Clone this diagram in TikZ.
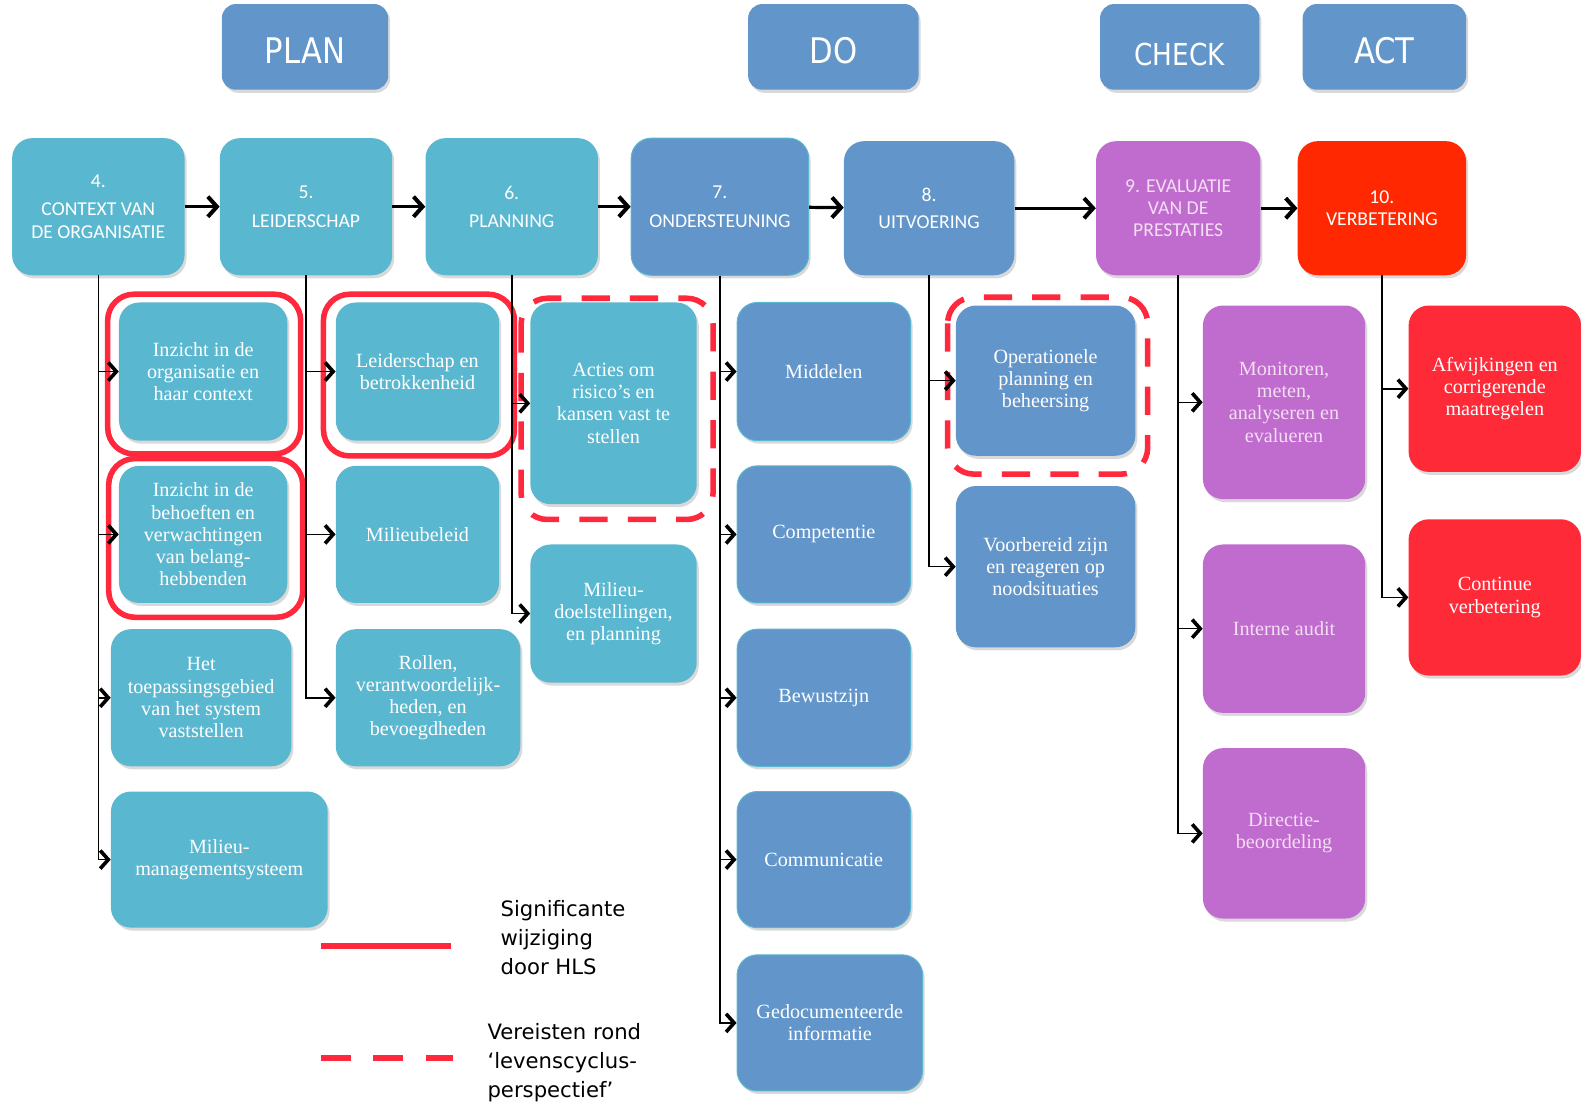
\documentclass[tikz,border=0pt]{standalone}
\usepackage{fontspec}
\setmainfont{Liberation Serif}
\newfontfamily\boxfont{Carlito}
\newfontfamily\pdcafont[FakeStretch=0.87]{DejaVu Sans}
\newfontfamily\legendfont{DejaVu Sans}
\usetikzlibrary{arrows.meta,shadows}

\definecolor{plancyan}{RGB}{90,183,208}
\definecolor{doblue}{RGB}{98,149,201}
\definecolor{checkpurple}{RGB}{192,107,206}
\definecolor{actred}{RGB}{255,40,0}
\definecolor{subred}{RGB}{255,42,56}
\definecolor{hlsred}{RGB}{255,40,60}
\definecolor{lilatext}{RGB}{244,222,244}

\tikzset{
  box/.style={rounded corners=20pt, inner sep=0pt, align=center, text=white,
    drop shadow={shadow xshift=2pt, shadow yshift=-3pt, opacity=0.3}},
  pdca/.style={box, fill=doblue, minimum height=85pt, rounded corners=14pt,
    font=\pdcafont\fontsize{35}{35}\selectfont, text height=33pt},
  clause/.style={box, minimum height=136pt, font=\boxfont\fontsize{19.5}{22}\selectfont},
  subbox/.style={box, font=\fontsize{20}{22}\selectfont},
  flow/.style={line width=3.2pt, -{Straight Barb[length=9pt,width=20pt,line width=4pt]}},
  branch/.style={line width=1.6pt, -{Straight Barb[length=8pt,width=18pt,line width=3.6pt]}},
  hls/.style={draw=hlsred, line width=5.5pt, rounded corners=26pt},
  hlsdash/.style={hls, dash pattern=on 28pt off 20pt},
  legend/.style={anchor=west, align=left, font=\legendfont\fontsize{21}{28.5}\selectfont}
}

\begin{document}
\begin{tikzpicture}[x=1pt,y=-1pt]
        \useasboundingbox (0,0) rectangle (1568,1097);

        \node[pdca, minimum width=165pt] (plan) at (302.5,46.5) {PLAN};
        \node[pdca, minimum width=169pt] (do) at (826.5,46.5) {DO};
        \node[pdca, minimum width=158pt, font=\pdcafont\fontsize{30}{30}\selectfont,
          text height=37pt] (check) at (1170,46.5) {CHECK};
        \node[pdca, minimum width=162pt] (act) at (1373,46.5) {ACT};

        \node[clause, fill=plancyan, minimum width=171pt] (c4) at (97.5,205)
          {4.\\[6pt]CONTEXT VAN\\DE ORGANISATIE};
        \node[clause, fill=plancyan, minimum width=171pt] (c5) at (303.5,205)
          {5.\\[6pt]LEIDERSCHAP};
        \node[clause, fill=plancyan, minimum width=171pt] (c6) at (507.5,205)
          {6.\\[6pt]PLANNING};
        \node[clause, fill=doblue, draw=plancyan, line width=1pt, minimum width=176pt] (c7)
          at (714,205) {7.\\[6pt]ONDERSTEUNING};
        \node[clause, fill=doblue, minimum width=169pt, minimum height=133pt] (c8)
          at (921.5,206.5) {8.\\[5pt]UITVOERING};
        \node[clause, fill=checkpurple, text=lilatext, minimum width=163pt,
          minimum height=133pt] (c9) at (1168.5,206.5) {9. EVALUATIE\\VAN DE\\PRESTATIES};
        \node[clause, fill=actred, minimum width=167pt, minimum height=133pt] (c10)
          at (1370.5,206.5) {10.\\VERBETERING};

        \draw[flow] (c4) -- (c5);
        \draw[flow] (c5) -- (c6);
        \draw[flow] (c6) -- (c7);
        \draw[flow] (c7) -- (c8);
        \draw[flow] (c8) -- (c9);
        \draw[flow] (c9) -- (c10);

        \node[subbox, fill=plancyan, minimum width=167pt, minimum height=137pt] (s41)
          at (201.5,368.5) {Inzicht in de\\organisatie en\\haar context};
        \node[subbox, fill=plancyan, minimum width=167pt, minimum height=136pt] (s42)
          at (201.5,530) {Inzicht in de\\behoeften en\\verwachtingen\\van belang-\\hebbenden};
        \node[subbox, fill=plancyan, minimum width=179pt, minimum height=136pt] (s43)
          at (199.5,692) {Het\\toepassingsgebied\\van het system\\vaststellen};
        \node[subbox, fill=plancyan, minimum width=215pt, minimum height=135pt] (s44)
          at (217.5,852.5) {Milieu-\\managementsysteem};

        \node[subbox, fill=plancyan, minimum width=162pt, minimum height=137pt] (s51)
          at (414,368.5) {Leiderschap en\\betrokkenheid};
        \node[subbox, fill=plancyan, minimum width=162pt, minimum height=136pt] (s52)
          at (414,530) {Milieubeleid};
        \node[subbox, fill=plancyan, minimum width=183pt, minimum height=136pt] (s53)
          at (424.5,692) {Rollen,\\verantwoordelijk-\\heden, en\\bevoegdheden};

        \node[subbox, fill=plancyan, minimum width=165pt, minimum height=200pt] (s61)
          at (608.5,400) {Acties om\\risico’s en\\kansen vast te\\stellen};
        \node[subbox, fill=plancyan, minimum width=165pt, minimum height=137pt] (s62)
          at (608.5,608.5) {Milieu-\\doelstellingen,\\en planning};

        \node[subbox, fill=doblue, draw=plancyan, line width=1pt, minimum width=172pt,
          minimum height=137pt] (s71) at (817,368.5) {Middelen};
        \node[subbox, fill=doblue, draw=plancyan, line width=1pt, minimum width=172pt,
          minimum height=136pt] (s72) at (817,530) {Competentie};
        \node[subbox, fill=doblue, draw=plancyan, line width=1pt, minimum width=172pt,
          minimum height=136pt] (s73) at (817,692) {Bewustzijn};
        \node[subbox, fill=doblue, draw=plancyan, line width=1pt, minimum width=172pt,
          minimum height=135pt] (s74) at (817,852.5) {Communicatie};
        \node[subbox, fill=doblue, draw=plancyan, line width=1pt, minimum width=184pt,
          minimum height=135pt] (s75) at (823,1014.5) {Gedocumenteerde\\informatie};

        \node[subbox, fill=doblue, minimum width=178pt, minimum height=149pt] (s81)
          at (1037,377.5) {Operationele\\planning en\\beheersing};
        \node[subbox, fill=doblue, minimum width=178pt, minimum height=160pt] (s82)
          at (1037,562) {Voorbereid zijn\\en reageren op\\noodsituaties};

        \node[subbox, fill=checkpurple, text=lilatext, minimum width=161pt,
          minimum height=192pt] (s91) at (1273.5,399) {Monitoren,\\meten,\\analyseren en\\evalueren};
        \node[subbox, fill=checkpurple, text=lilatext, minimum width=161pt,
          minimum height=167pt] (s92) at (1273.5,623.5) {Interne audit};
        \node[subbox, fill=checkpurple, text=lilatext, minimum width=161pt,
          minimum height=169pt] (s93) at (1273.5,826.5) {Directie-\\beoordeling};

        \node[subbox, fill=subred, minimum width=171pt, minimum height=165pt] (s101)
          at (1482.5,385.5) {Afwijkingen en\\corrigerende\\maatregelen};
        \node[subbox, fill=subred, minimum width=171pt, minimum height=155pt] (s102)
          at (1482.5,592.5) {Continue\\verbetering};

        \draw[hls] ([shift={(-11,-8)}]s41.north west) rectangle ([shift={(13,13)}]s41.south east);
        \draw[hls] ([shift={(-10,-7)}]s42.north west) rectangle ([shift={(15,14)}]s42.south east);
        \draw[hls] ([shift={(-12,-8)}]s51.north west) rectangle ([shift={(15,15)}]s51.south east);
        \draw[hlsdash] ([shift={(-9,-4)}]s61.north west) rectangle ([shift={(16,15)}]s61.south east);
        \draw[hlsdash] ([shift={(-8,-8)}]s81.north west) rectangle ([shift={(12,18)}]s81.south east);

        \draw[branch] (c4.south) |- (s41.west);
        \draw[branch] (c4.south) |- (s42.west);
        \draw[branch] (c4.south) |- (s43.west);
        \draw[branch] (c4.south) |- (s44.west);
        \draw[branch] (c5.south) |- (s51.west);
        \draw[branch] (c5.south) |- (s52.west);
        \draw[branch] (c5.south) |- (s53.west);
        \draw[branch] (c6.south) |- (s61.west);
        \draw[branch] (c6.south) |- (s62.west);
        \draw[branch] (c7.south) |- (s71.west);
        \draw[branch] (c7.south) |- (s72.west);
        \draw[branch] (c7.south) |- (s73.west);
        \draw[branch] (c7.south) |- (s74.west);
        \draw[branch] (c7.south) |- (s75.west);
        \draw[branch] (c8.south) |- (s81.west);
        \draw[branch] (c8.south) |- (s82.west);
        \draw[branch] (c9.south) |- (s91.west);
        \draw[branch] (c9.south) |- (s92.west);
        \draw[branch] (c9.south) |- (s93.west);
        \draw[branch] (c10.south) |- (s101.west);
        \draw[branch] (c10.south) |- (s102.west);

        \draw[hlsred, line width=6pt] (318,938) -- (447,938);
        \node[legend] (lsolid) at (493,930) {Significante\\wijziging\\door HLS};
        \draw[hlsred, line width=6pt, dash pattern=on 30pt off 22pt] (318,1049) -- (449,1049);
        \node[legend] (ldash) at (480,1054) {Vereisten rond\\‘levenscyclus-\\perspectief’};
\end{tikzpicture}
\end{document}
